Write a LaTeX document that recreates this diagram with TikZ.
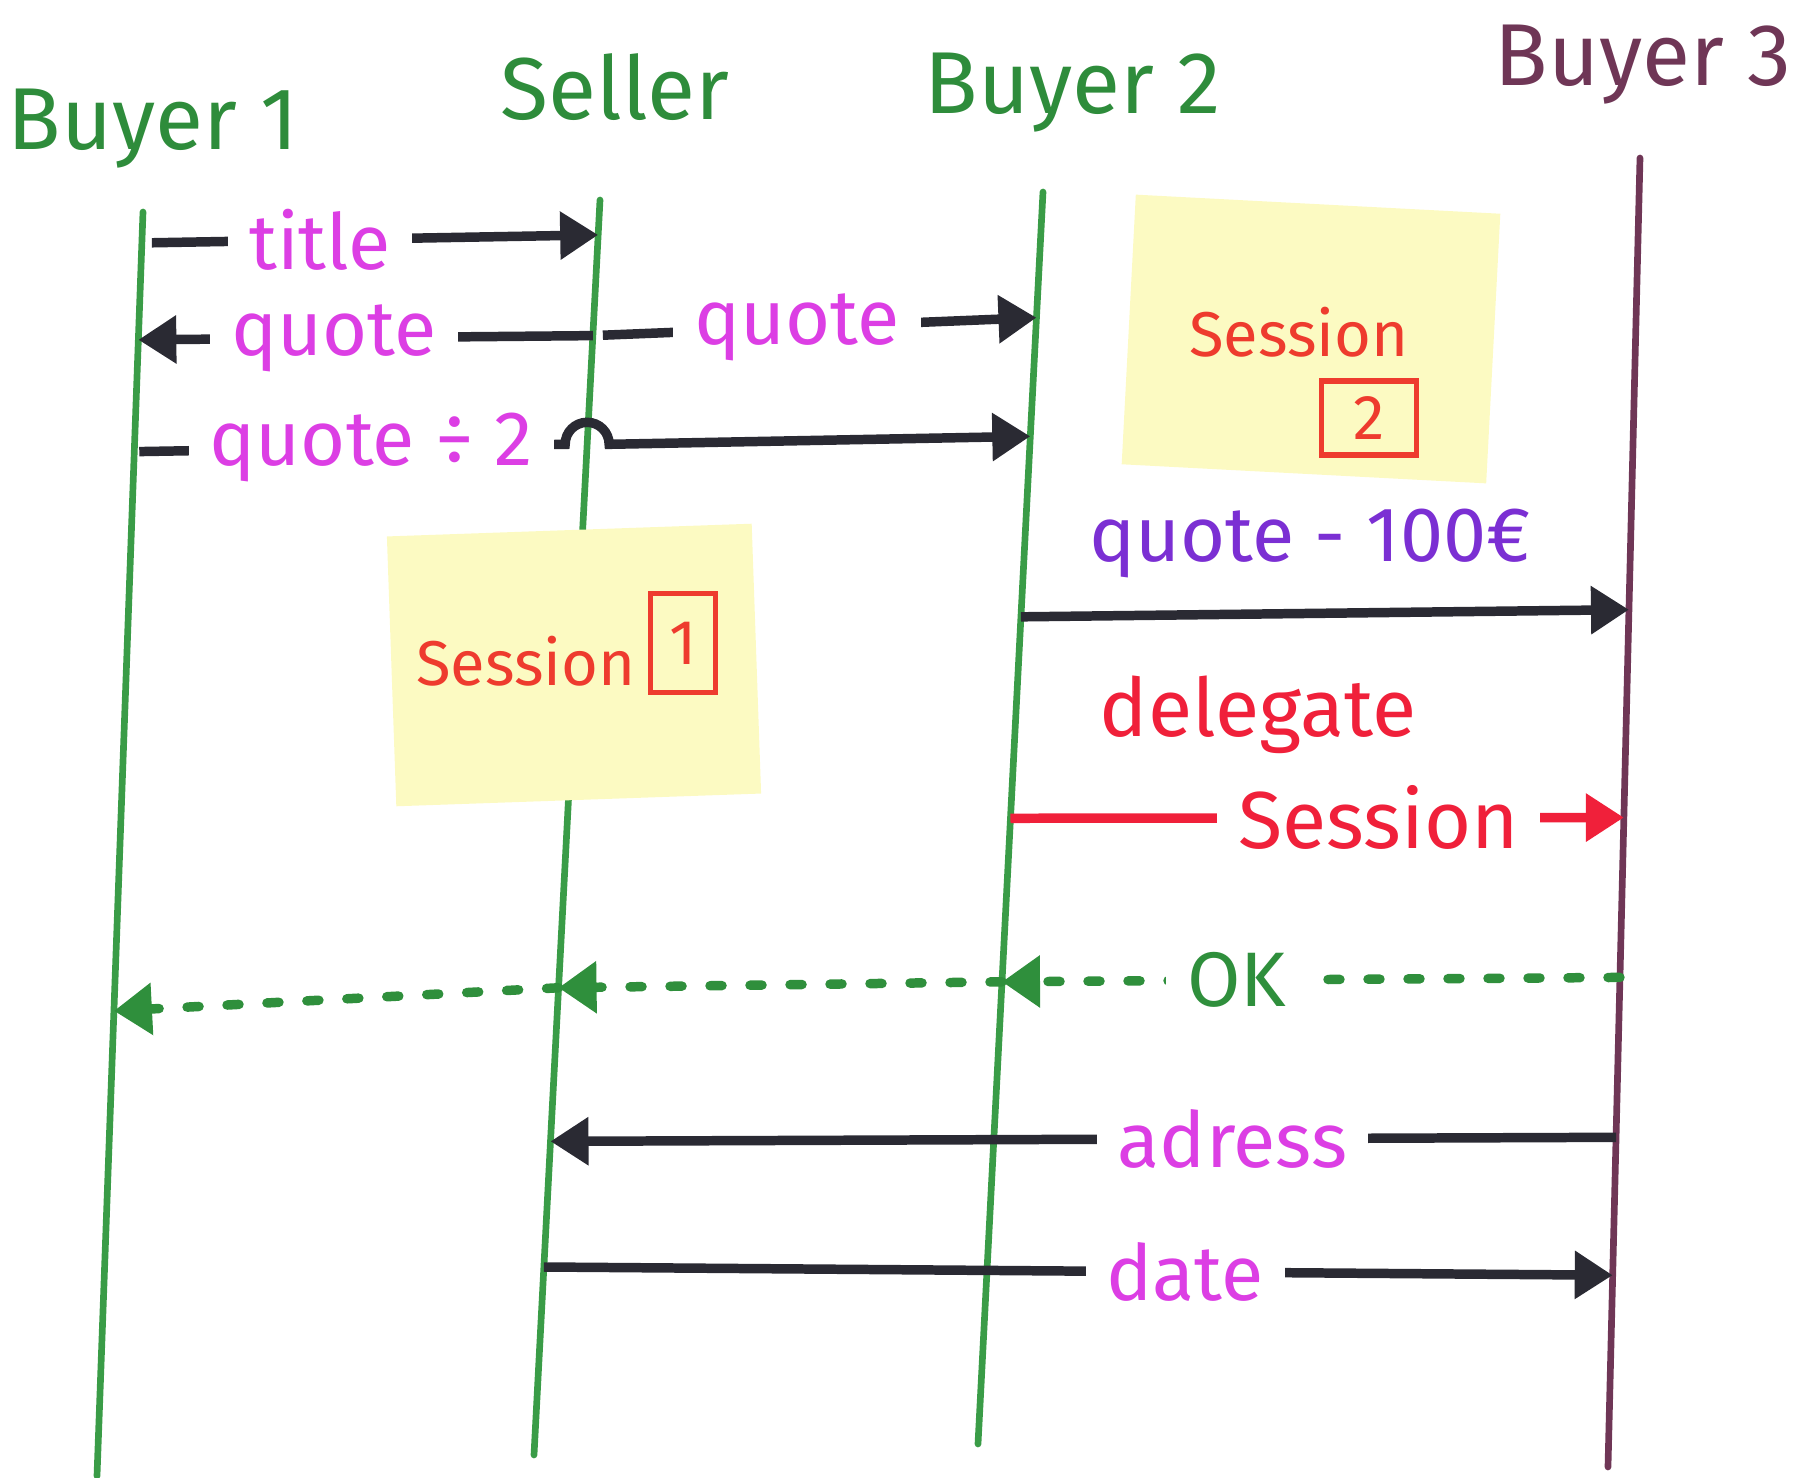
\documentclass[tikz,border=0pt]{standalone}
\usepackage{fontspec}
\setmainfont{Fira Sans}
\usetikzlibrary{positioning,arrows.meta,calc}

\definecolor{lifegreen}{HTML}{3A9C47}
\definecolor{namegreen}{HTML}{2E8C3B}
\definecolor{plum}{HTML}{6F3656}
\definecolor{ink}{HTML}{2A2A33}
\definecolor{msgpink}{HTML}{DC3EE4}
\definecolor{msgviolet}{HTML}{7B2FD3}
\definecolor{sessred}{HTML}{EE3B2E}
\definecolor{delred}{HTML}{F0203A}
\definecolor{okgreen}{HTML}{2F8F3C}
\definecolor{notey}{HTML}{FCFAC2}

\begin{document}
\begin{tikzpicture}[
	actor/.style={anchor=base, text=namegreen, font=\fontsize{25}{30}\selectfont}
	,life/.style={draw=lifegreen, line width=1.9pt, line cap=round}
	,msg/.style={draw=ink, line width=2.7pt, -{Triangle[length=0.38cm, width=0.46cm]}}
	,lbl/.style={fill=white, inner xsep=6pt, inner ysep=1pt, text=msgpink, font=\fontsize{22}{27}\selectfont}
	,sticky/.style={fill=notey, minimum width=3.65cm, minimum height=2.7cm}
	,sess/.style={text=sessred, font=\fontsize{18}{22}\selectfont}
	,numbox/.style={draw=sessred, line width=1.6pt, text=sessred, inner sep=0pt, font=\fontsize{18}{22}\selectfont}
	,okline/.style={draw=okgreen, line width=2.7pt, line cap=round, dash pattern=on 0.12cm off 0.28cm, -{Triangle[length=0.38cm, width=0.5cm]}}
]
	\useasboundingbox (0,0) rectangle (17.94,-14.78);

	% actors
	\node[actor] (buyer1) at (1.53,-1.50) {Buyer 1};
	\node[actor] (seller) at (6.15,-1.20) {Seller};
	\node[actor] (buyer2) at (10.73,-1.14) {Buyer 2};
	\node[actor, text=plum] (buyer3) at (16.43,-0.86) {Buyer 3};

	% lifelines
	\coordinate (b1t) at (1.43,-2.12);  \coordinate (b1b) at (0.97,-14.76);
	\coordinate (st) at (6.00,-2.00);   \coordinate (sb) at (5.34,-14.55);
	\coordinate (b2t) at (10.43,-1.92); \coordinate (b2b) at (9.78,-14.44);
	\coordinate (b3t) at (16.40,-1.58); \coordinate (b3b) at (16.08,-14.67);
	\draw[life] (b1t) -- (b1b);
	\draw[life] (st) -- (sb);
	\draw[life] (b2t) -- (b2b);
	\draw[life, draw=plum] (b3t) -- (b3b);

	% sticky notes
	\node[sticky, rotate=2] (note1) at (5.74,-6.65) {};
	\node[sess] (sess1) at (5.26,-6.61) {Session};
	\node[numbox, minimum width=0.65cm, minimum height=0.99cm] (num1) at (6.83,-6.43) {1};
	\node[sticky, rotate=-3] (note2) at (13.11,-3.39) {};
	\node[sess] (sess2) at (12.99,-3.32) {Session};
	\node[numbox, minimum width=0.95cm, minimum height=0.74cm] (num2) at (13.69,-4.18) {2};

	% message ends on the lifelines
	\foreach \c/\lf/\yy in {t0/b1/-2.43, t1/s/-2.35, q0/s/-3.36, q1/b1/-3.40, q2/b2/-3.18,
		h0/b1/-4.52, hs/s/-4.45, h1/b2/-4.37, p0/b2/-6.18, p1/b3/-6.10,
		d0/b2/-8.20, d1/b3/-8.18, k0/b3/-9.78, k1/b2/-9.84, k2/s/-9.90, k3/b1/-10.12,
		a0/b3/-11.38, a1/s/-11.44, e0/s/-12.70, e1/b3/-12.76}
		\coordinate (\c) at ($(\lf t)!(\lf t |- 0,\yy)!(\lf b)$);

	% messages
	\draw[msg, shorten <=0.1cm] (t0) -- node[lbl, pos=0.39] (ltitle) {title} (t1);
	\draw[msg] (q0) -- node[lbl, pos=0.57] (lquote1) {quote} (q1);
	\draw[msg, shorten <=0.1cm] (q0) -- node[lbl, pos=0.46] (lquote2) {quote} (q2);
	\draw[msg, shorten <=0.05cm] (h0) -- node[lbl, pos=0.55] (lhalf) {quote ÷ 2} ($(hs)+(-0.22,0)$)
		arc[start angle=180, end angle=0, radius=0.22] -- (h1);
	\draw[msg] (p0) -- (p1);
	\node[lbl, text=msgviolet, fill=none] (lminus) at (13.10,-5.43) {quote - 100€};
	\node[lbl, text=delred, fill=none, font=\fontsize{23}{28}\selectfont] (ldelegate) at (12.58,-7.15) {delegate};
	\draw[msg, draw=delred] (d0) -- node[lbl, text=delred, pos=0.60, font=\fontsize{23}{28}\selectfont] (lsession) {Session} (d1);
	\draw[okline] (k0) -- node[lbl, text=okgreen, pos=0.62] (lok) {OK} (k1);
	\draw[okline] (k1) -- (k2);
	\draw[okline] (k2) -- (k3);
	\draw[msg] (a0) -- node[lbl, pos=0.36] (ladress) {adress} (a1);
	\draw[msg] (e0) -- node[lbl, pos=0.60] (ldate) {date} (e1);
\end{tikzpicture}
\end{document}
